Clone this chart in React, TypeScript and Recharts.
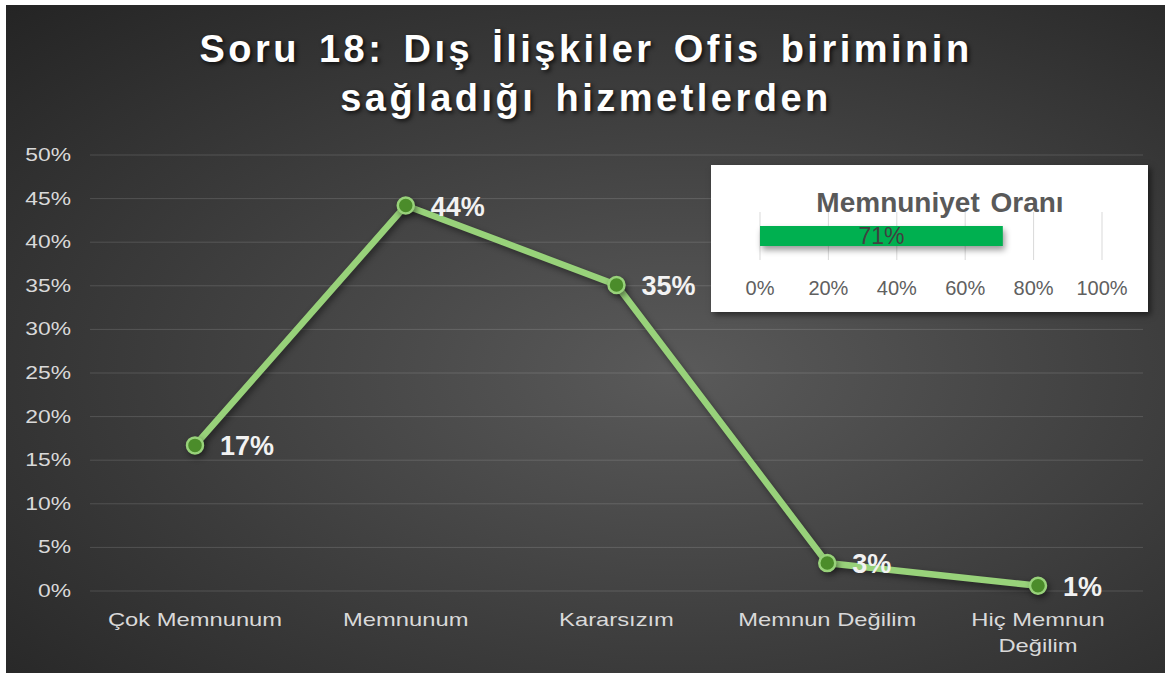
import React from 'react'
import { LineChart, Line, XAxis, YAxis, CartesianGrid, LabelList, BarChart, Bar } from 'recharts'

const categories = ['Çok Memnunum', 'Memnunum', 'Kararsızım', 'Memnun Değilim', 'Hiç Memnun Değilim']
const responseShare = [16.7, 44.2, 35.1, 3.2, 0.6]
const yTicks = [0, 5, 10, 15, 20, 25, 30, 35, 40, 45, 50]

const satisfactionLabel = ['Memnuniyet']
const satisfactionValue = [71]
const insetTicks = [0, 20, 40, 60, 80, 100]

const lineData = categories.map((name, i) => ({ name, value: responseShare[i] }))
const insetData = satisfactionLabel.map((name, i) => ({ name, value: satisfactionValue[i] }))

const FONT = '"Liberation Sans", Arial, sans-serif'

function wrapWords(text: string, max: number) {
  const lines: string[] = []
  let cur = ''
  for (const w of text.split(' ')) {
    const next = cur ? cur + ' ' + w : w
    if (next.length > max && cur) {
      lines.push(cur)
      cur = w
    } else cur = next
  }
  if (cur) lines.push(cur)
  return lines
}

const CategoryTick = (props: any) => {
  const { x, y, payload } = props
  const lines = wrapWords(String(payload.value), 14)
  return (
    <g transform={`translate(${x},${y})`}>
      {lines.map((l, i) => (
        <text
          key={i}
          transform={`translate(0,${35 + i * 26}) scale(1.25,1)`}
          textAnchor="middle"
          fill="#d9d9d9"
          fontSize={19}
          fontFamily={FONT}
        >
          {l}
        </text>
      ))}
    </g>
  )
}

const PercentTick = (props: any) => {
  const { x, y, payload } = props
  return (
    <text
      transform={`translate(${x - 19},${y + 6}) scale(1.27,1)`}
      textAnchor="end"
      fill="#d9d9d9"
      fontSize={18}
      fontFamily={FONT}
    >
      {`${payload.value}%`}
    </text>
  )
}

const PointLabel = (props: any) => {
  const { x, y, value } = props
  return (
    <text x={x + 25} y={y + 10} fill="#f2f2f2" fontSize={27} fontWeight="bold" fontFamily={FONT}>
      {`${Math.round(value)}%`}
    </text>
  )
}

const InsetTick = (props: any) => {
  const { x, y, payload } = props
  return (
    <text x={x} y={y + 35} textAnchor="middle" fill="#606060" fontSize={20} fontFamily={FONT}>
      {`${payload.value}%`}
    </text>
  )
}

export default function App() {
  return (
    <div style={{ position: 'absolute', left: 0, top: 0, width: 1165, height: 673, background: '#fff', fontFamily: FONT }}>
      <div
        style={{
          position: 'absolute',
          left: 6,
          top: 5,
          width: 1159,
          height: 668,
          background: 'radial-gradient(ellipse at 58% 55%, #5a5a5a 0%, #3c3c3c 55%, #242424 100%)',
        }}
      />
      <div
        style={{
          position: 'absolute',
          left: 0,
          top: 25,
          width: 1172,
          textAlign: 'center',
          color: '#fff',
          fontSize: 38,
          fontWeight: 'bold',
          lineHeight: '49px',
          letterSpacing: 3.5,
          wordSpacing: 5,
          textShadow: '2px 2px 4px rgba(0,0,0,0.75)',
        }}
      >
        Soru 18: Dış İlişkiler Ofis biriminin
        <br />
        sağladığı hizmetlerden
      </div>
      <div style={{ position: 'absolute', left: 0, top: 0 }}>
        <LineChart width={1165} height={673} data={lineData} margin={{ top: 155, right: 22, bottom: 52, left: 0 }}>
          <CartesianGrid vertical={false} stroke="rgba(255,255,255,0.14)" />
          <XAxis
            dataKey="name"
            height={30}
            padding={{ left: 105, right: 105 }}
            axisLine={false}
            tickLine={false}
            tickSize={0}
            tickMargin={0}
            interval={0}
            tick={<CategoryTick />}
          />
          <YAxis
            width={90}
            domain={[0, 50]}
            ticks={yTicks}
            axisLine={false}
            tickLine={false}
            tickSize={0}
            tickMargin={0}
            tick={<PercentTick />}
          />
          <Line dataKey="value" stroke="none" dot={false} activeDot={false} isAnimationActive={false}>
            <LabelList dataKey="value" content={<PointLabel />} />
          </Line>
          <Line
            dataKey="value"
            stroke="#98d27a"
            strokeWidth={6.5}
            dot={{ r: 8, fill: '#4b8c2a', stroke: '#98d27a', strokeWidth: 2.5 }}
            activeDot={false}
            isAnimationActive={false}
            style={{ filter: 'drop-shadow(2px 3px 3px rgba(0,0,0,0.45))' }}
          />
        </LineChart>
      </div>
      <div
        style={{
          position: 'absolute',
          left: 711,
          top: 165,
          width: 437,
          height: 147,
          background: '#fff',
          boxShadow: '3px 3px 6px rgba(0,0,0,0.5)',
        }}
      >
        <BarChart width={437} height={147} data={insetData} layout="vertical" margin={{ top: 47, right: 46, bottom: 22, left: 49 }}>
          <CartesianGrid horizontal={false} stroke="#d9d9d9" />
          <XAxis
            type="number"
            domain={[0, 100]}
            ticks={insetTicks}
            height={30}
            axisLine={false}
            tickLine={false}
            tickSize={0}
            tickMargin={0}
            tick={<InsetTick />}
          />
          <YAxis type="category" dataKey="name" hide />
          <Bar
            dataKey="value"
            fill="#00b050"
            barSize={20}
            isAnimationActive={false}
            style={{ filter: 'drop-shadow(2px 4px 3px rgba(0,0,0,0.4))' }}
          >
            <LabelList dataKey="value" position="center" formatter={(v: any) => `${v}%`} fill="#404040" fontSize={23} fontFamily={FONT} />
          </Bar>
        </BarChart>
        <div
          style={{
            position: 'absolute',
            left: 29,
            top: 24,
            width: 400,
            textAlign: 'center',
            color: '#595959',
            fontSize: 28,
            fontWeight: 'bold',
            lineHeight: '28px',
            wordSpacing: 3,
          }}
        >
          Memnuniyet Oranı
        </div>
      </div>
    </div>
  )
}
